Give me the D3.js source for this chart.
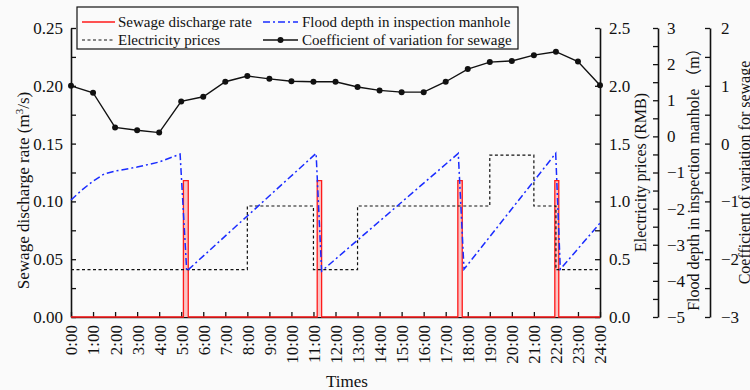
<!DOCTYPE html>
<html><head><meta charset="utf-8">
<script src="https://cdn.jsdelivr.net/npm/d3@7"></script>
<style>
html,body{margin:0;padding:0;background:#fafafa;}
svg{display:block;}
text{font-family:"Liberation Serif","Times New Roman","Noto Sans CJK SC",serif;fill:#111;}
</style></head>
<body>
<svg id="c" width="750" height="390"></svg>
<script>
// ---- data ----
const hours = [0,1,2,3,4,5,6,7,8,9,10,11,12,13,14,15,16,17,18,19,20,21,22,23,24];
const hourLabels = ["0:00","1:00","2:00","3:00","4:00","5:00","6:00","7:00","8:00","9:00","10:00","11:00","12:00","13:00","14:00","15:00","16:00","17:00","18:00","19:00","20:00","21:00","22:00","23:00","24:00"];
const cvValues = [1.00,0.88,0.28,0.23,0.19,0.73,0.81,1.07,1.17,1.12,1.08,1.07,1.07,0.98,0.92,0.89,0.89,1.07,1.29,1.41,1.43,1.53,1.59,1.42,1.01];
const priceTime = [0,8,11,13,19,21,22,24];
const priceLevel = [0.41,0.96,0.41,0.96,1.40,0.96,0.41,0.41];
const pulseStart = [5.10,11.17,17.55,21.95];
const pulseEnd = [5.32,11.37,17.75,22.13];
const pulseRate = 0.118;
const floodTime = [0,0.5,1,1.5,2,3,4,4.95,5.25,11.12,11.37,17.57,17.83,21.99,22.2,24];
const floodDepth = [-1.76,-1.48,-1.24,-1.04,-0.96,-0.85,-0.71,-0.49,-3.73,-0.47,-3.73,-0.47,-3.68,-0.47,-3.68,-2.40];
const rateTicks = [0,0.05,0.10,0.15,0.20,0.25];
const priceTicks = [0,0.5,1.0,1.5,2.0,2.5];
const floodTicks = [-5,-4,-3,-2,-1,0,1,2,3];
const cvTicks = [-3,-2,-1,0,1,2];

// ---- layout ----
const L=71,R=600,T=28,B=317;
const svg=d3.select("#c");
const x=d3.scaleLinear().domain([0,24]).range([L,R]);
const yRate=d3.scaleLinear().domain([0,0.25]).range([B,T]);
const yPrice=d3.scaleLinear().domain([0,2.5]).range([B,T]);
const yFlood=d3.scaleLinear().domain([-5,3]).range([B,T]);
const yCV=d3.scaleLinear().domain([-3,2]).range([B,T]);

function withMinor(major){const out=[];for(let i=0;i<major.length;i++){out.push(major[i]);if(i<major.length-1)out.push((major[i]+major[i+1])/2);}return out;}
function styleAxis(g,fs){g.select(".domain").attr("stroke","#111").attr("stroke-width",1.6);g.selectAll(".tick line").attr("stroke","#111").attr("stroke-width",1.3);g.selectAll(".tick text").style("font-size",fs+"px").attr("fill","#111");g.attr("font-family",null);}

// left axis
const gl=svg.append("g").attr("transform",`translate(${L},0)`)
 .call(d3.axisLeft(yRate).tickValues(withMinor(rateTicks)).tickSize(-5).tickPadding(8).tickSizeOuter(0)
 .tickFormat(d=>rateTicks.some(t=>Math.abs(t-d)<1e-9)?d3.format(".2f")(d):""));
styleAxis(gl,17);

// bottom axis
const gb=svg.append("g").attr("transform",`translate(0,${B})`)
 .call(d3.axisBottom(x).tickValues(hours).tickSize(-5).tickSizeOuter(0).tickFormat((d,i)=>hourLabels[i]));
styleAxis(gb,17);
gb.selectAll(".tick text").attr("transform","rotate(-90)").attr("text-anchor","end").attr("x",-8).attr("y",0).attr("dy","0.35em");

// right axes
function rightAxis(scale,ticks,xpos,pad,fmt){
 const g=svg.append("g").attr("transform",`translate(${xpos},0)`)
  .call(d3.axisRight(scale).tickValues(withMinor(ticks)).tickSize(-5).tickPadding(pad).tickSizeOuter(0)
  .tickFormat(d=>ticks.some(t=>Math.abs(t-d)<1e-9)?fmt(d):""));
 styleAxis(g,17);
 return g;
}
rightAxis(yPrice,priceTicks,R,9,d3.format(".1f"));
rightAxis(yFlood,floodTicks,658,9,d3.format("d"));
rightAxis(yCV,cvTicks,710,11,d3.format("d"));

// axis titles
svg.append("text").attr("transform",`translate(23,${(T+B)/2+18}) rotate(-90)`).attr("text-anchor","middle").attr("dy","0.35em").style("font-size","17px")
 .html('Sewage discharge rate (m<tspan dy="-6" style="font-size:11px">3</tspan><tspan dy="6">/s)</tspan>');
svg.append("text").attr("transform",`translate(640,${(T+B)/2}) rotate(-90)`).attr("text-anchor","middle").attr("dy","0.35em").style("font-size","16px").text("Electricity prices (RMB)");
svg.append("text").attr("transform",`translate(693,${(T+B)/2+3}) rotate(-90)`).attr("text-anchor","middle").attr("dy","0.35em").style("font-size","16px").text("Flood depth in inspection manhole （m）");
svg.append("text").attr("transform",`translate(744,${(T+B)/2}) rotate(-90)`).attr("text-anchor","middle").attr("dy","0.35em").style("font-size","16px").text("Coefficient of variation for sewage");
svg.append("text").attr("x",347).attr("y",381).attr("text-anchor","middle").attr("dy","0.35em").style("font-size","17px").text("Times");

// ---- series ----
// sewage discharge pulses
const sewagePts=[[0,0]];
pulseStart.forEach((s,i)=>{sewagePts.push([s,0],[s,pulseRate],[pulseEnd[i],pulseRate],[pulseEnd[i],0]);});
sewagePts.push([24,0]);
pulseStart.forEach((s,i)=>{
 svg.append("rect").attr("x",x(s)).attr("y",yRate(pulseRate)).attr("width",x(pulseEnd[i])-x(s)).attr("height",yRate(0)-yRate(pulseRate)).attr("fill","#f9c4c4");
});
svg.append("path").datum(sewagePts).attr("fill","none").attr("stroke","#ff1a1a").attr("stroke-width",1.3)
 .attr("d",d3.line().x(d=>x(d[0])).y(d=>yRate(d[1])));

// electricity price
const pricePts=priceTime.map((t,i)=>[t,priceLevel[i]]);
svg.append("path").datum(pricePts).attr("fill","none").attr("stroke","#111").attr("stroke-width",1.2).attr("stroke-dasharray","3,2.5")
 .attr("d",d3.line().curve(d3.curveStepAfter).x(d=>x(d[0])).y(d=>yPrice(d[1])));

// flood depth
const floodPts=floodTime.map((t,i)=>[t,floodDepth[i]]);
svg.append("path").datum(floodPts).attr("fill","none").attr("stroke","#1a2cff").attr("stroke-width",1.5).attr("stroke-dasharray","7,3,2,3")
 .attr("d",d3.line().x(d=>x(d[0])).y(d=>yFlood(d[1])));

// coefficient of variation
const cvPts=hours.map((h,i)=>[h,cvValues[i]]);
svg.append("path").datum(cvPts).attr("fill","none").attr("stroke","#111").attr("stroke-width",1.4)
 .attr("d",d3.line().x(d=>x(d[0])).y(d=>yCV(d[1])));
svg.selectAll("circle.cv").data(cvPts).enter().append("circle").attr("class","cv")
 .attr("cx",d=>x(d[0])).attr("cy",d=>yCV(d[1])).attr("r",3).attr("fill","#111");

// ---- legend ----
const lg=svg.append("g");
lg.append("rect").attr("x",77).attr("y",7).attr("width",441).attr("height",42).attr("fill","none").attr("stroke","#111").attr("stroke-width",1.2);
const r1=22,r2=40;
lg.append("line").attr("x1",82).attr("x2",115).attr("y1",r1).attr("y2",r1).attr("stroke","#ff1a1a").attr("stroke-width",1.3);
lg.append("text").attr("x",118).attr("y",r1).attr("dy","0.35em").style("font-size","15px").text("Sewage discharge rate");
lg.append("line").attr("x1",263).attr("x2",298).attr("y1",r1).attr("y2",r1).attr("stroke","#1a2cff").attr("stroke-width",1.5).attr("stroke-dasharray","7,3,2,3");
lg.append("text").attr("x",302).attr("y",r1).attr("dy","0.35em").style("font-size","15px").text("Flood depth in inspection manhole");
lg.append("line").attr("x1",82).attr("x2",115).attr("y1",r2).attr("y2",r2).attr("stroke","#111").attr("stroke-width",1.2).attr("stroke-dasharray","3,2.5");
lg.append("text").attr("x",118).attr("y",r2).attr("dy","0.35em").style("font-size","15px").text("Electricity prices");
lg.append("line").attr("x1",263).attr("x2",298).attr("y1",r2).attr("y2",r2).attr("stroke","#111").attr("stroke-width",1.4);
lg.append("circle").attr("cx",280.5).attr("cy",r2).attr("r",3).attr("fill","#111");
lg.append("text").attr("x",302).attr("y",r2).attr("dy","0.35em").style("font-size","15px").text("Coefficient of variation for sewage");
</script>
</body></html>
